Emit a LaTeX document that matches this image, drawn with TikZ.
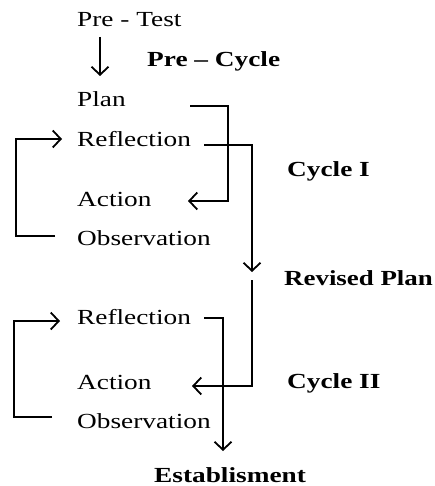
\documentclass[tikz,border=0pt]{standalone}
\usepackage{fontspec}
\setmainfont{Liberation Serif}[FakeStretch=1.27]
\usetikzlibrary{arrows.meta}
\begin{document}
\begin{tikzpicture}[x=1pt,y=-1pt,
  lbl/.style={inner sep=0pt,anchor=base west,font=\fontsize{21.5}{24}\selectfont},
  blbl/.style={lbl,font=\fontsize{21.5}{24}\selectfont\bfseries},
  conn/.style={line width=1.8pt,line join=miter},
  arr/.style={conn,-{Straight Barb[length=8pt,width=17pt,line width=1.8pt]}}]
\useasboundingbox (0,0) rectangle (435,486);
% text nodes
\node[lbl] (pretest) at (77,27) {Pre - Test};
\node[blbl] (precycle) at (147,67) {Pre -- Cycle};
\node[lbl] (plan) at (77,107) {Plan};
\node[lbl] (refA) at (77,147) {Reflection};
\node[blbl] (cycA) at (287,177) {Cycle I};
\node[lbl] (actA) at (77,206) {Action};
\node[lbl] (obsA) at (77,245) {Observation};
\node[blbl,xscale=0.985] (revised) at (284,285) {Revised Plan};
\node[lbl] (refB) at (77,324) {Reflection};
\node[lbl] (actB) at (77,389) {Action};
\node[blbl] (cycB) at (287,388) {Cycle II};
\node[lbl] (obsB) at (77,428) {Observation};
\node[blbl] (estab) at (154,482) {Establisment};
% connector points
\coordinate (ptS) at (100,37);
\coordinate (ptE) at (100,76);
\coordinate (planS) at (190,106);
\coordinate (planE) at (188,201);
\coordinate (refAS) at (204,145);
\coordinate (revIn) at (252,272);
\coordinate (revOut) at (252,280);
\coordinate (actBE) at (192,386);
\coordinate (refBS) at (204,318);
\coordinate (estIn) at (223,451);
\coordinate (obsAS) at (55,236);
\coordinate (refAE) at (62,139);
\coordinate (obsBS) at (52,417);
\coordinate (refBE) at (60,321);
% connectors
\draw[arr] (ptS) -- (ptE);
\draw[arr] (planS) -| (228,201) -- (planE);
\draw[arr] (refAS) -| (revIn);
\draw[arr] (revOut) |- (actBE);
\draw[arr] (refBS) -| (estIn);
\draw[arr] (obsAS) -| (16,139) -- (refAE);
\draw[arr] (obsBS) -| (14,321) -- (refBE);
\end{tikzpicture}
\end{document}
